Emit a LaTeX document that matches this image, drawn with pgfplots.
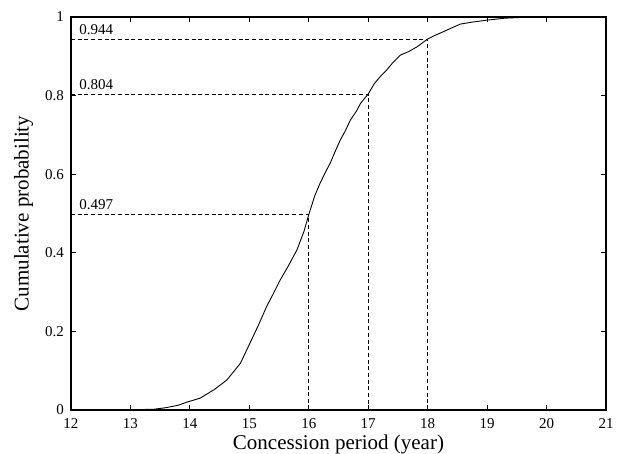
\documentclass[border=0pt]{standalone}
\usepackage{fontspec}
\setmainfont{Liberation Serif}
\usepackage{pgfplots}
\pgfplotsset{compat=1.18}

\pgfplotstableread{
x y
12.55 0
13.00 0.0005
13.40 0.002
13.60 0.006
13.80 0.012
13.95 0.020
14.17 0.030
14.40 0.051
14.62 0.076
14.85 0.119
15.01 0.170
15.15 0.215
15.29 0.263
15.40 0.295
15.52 0.331
15.65 0.365
15.80 0.407
15.92 0.455
16.00 0.497
16.10 0.545
16.19 0.577
16.28 0.605
16.36 0.628
16.45 0.660
16.53 0.687
16.62 0.712
16.70 0.738
16.80 0.760
16.87 0.780
16.95 0.795
17.00 0.804
17.10 0.830
17.20 0.848
17.31 0.865
17.42 0.885
17.54 0.903
17.68 0.912
17.82 0.924
17.92 0.935
18.00 0.944
18.12 0.953
18.27 0.963
18.40 0.972
18.55 0.982
18.75 0.987
19.00 0.992
19.30 0.997
19.60 0.999
19.80 1.000
20.50 1.000
}\cdf

\newcommand\tickfont{\fontsize{15}{17}\selectfont}

\begin{document}
\begin{tikzpicture}
\begin{axis}[
  scale only axis,
  width=535pt, height=393pt,
  xmin=12, xmax=21, ymin=0, ymax=1,
  xtick={12,13,...,21},
  ytick={0,0.2,0.4,0.6,0.8,1},
  yticklabels={0,0.2,0.4,0.6,0.8,1},
  tick align=inside,
  major tick length=5pt,
  axis line style={line width=1.1pt},
  tick style={line width=0.8pt, black},
  tick label style={font=\tickfont},
  xticklabel style={yshift=-5pt},
  yticklabel style={xshift=-3.5pt},
  /pgf/number format/assume math mode=true,
  xlabel={Concession period (year)},
  ylabel={Cumulative probability},
  label style={font=\fontsize{21}{23}\selectfont},
  xlabel style={at={([yshift=-34pt]rel axis cs:0.5,0)}, anchor=center},
  ylabel style={at={([xshift=-47.5pt]rel axis cs:0,0.5)}, anchor=center},
  clip=false,
]
\addplot[black, line width=0.9pt] table {\cdf};
\addplot[black, line width=0.8pt, dash pattern=on 4pt off 2.7pt] coordinates {(12,0.497) (16,0.497) (16,0)};
\addplot[black, line width=0.8pt, dash pattern=on 4pt off 2.7pt] coordinates {(12,0.804) (17,0.804) (17,0)};
\addplot[black, line width=0.8pt, dash pattern=on 4pt off 2.7pt] coordinates {(12,0.944) (18,0.944) (18,0)};
\node[anchor=south west, inner sep=0pt, font=\tickfont, xshift=8.3pt, yshift=4.4pt] at (axis cs:12,0.497) {0.497};
\node[anchor=south west, inner sep=0pt, font=\tickfont, xshift=8.3pt, yshift=4.4pt] at (axis cs:12,0.804) {0.804};
\node[anchor=south west, inner sep=0pt, font=\tickfont, xshift=8.3pt, yshift=4.4pt] at (axis cs:12,0.944) {0.944};
\coordinate (bl) at (rel axis cs:0,0);
\coordinate (tr) at (rel axis cs:1,1);
\end{axis}
\pgfresetboundingbox
\path ([shift={(-71pt,-43pt)}]bl) rectangle ([shift={(14pt,17pt)}]tr);
\end{tikzpicture}
\end{document}
